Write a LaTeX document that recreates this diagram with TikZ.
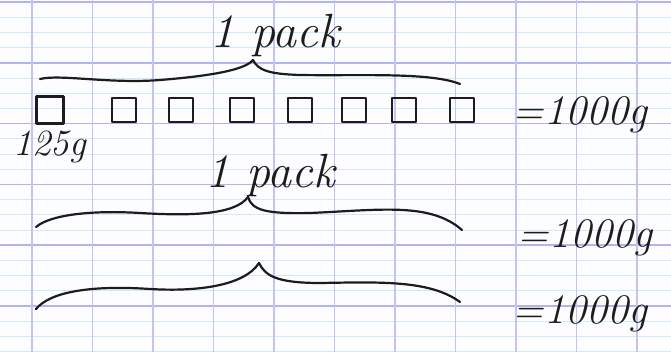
\documentclass[tikz,border=0pt]{standalone}
\usepackage{xcolor}
\usetikzlibrary{positioning}
\definecolor{paper}{HTML}{FDFDFF}
\definecolor{mainrule}{HTML}{B4B4EC}
\definecolor{thinrule}{HTML}{D3EAF6}
\definecolor{vrule}{HTML}{C4C4F2}
\definecolor{ink}{HTML}{1C1C1C}

\begin{document}
\begin{tikzpicture}[x=1pt,y=-1pt,line cap=round,line join=round]
    \tikzstyle{sq}=[draw=ink,line width=2.4pt,minimum size=24pt,inner sep=0pt]
    \tikzstyle{brace}=[draw=ink,line width=2.2pt]
    \tikzstyle{hand}=[text=ink,inner sep=0pt,font=\fontsize{42}{42}\selectfont\itshape]
    % paper
    \fill[paper] (0,0) rectangle (671,352);
    \useasboundingbox (0,0) rectangle (671,352);
    \foreach \y in {2,62.8,123.6,184.4,245.2,306} {
      \foreach \j in {1,2,3} \draw[thinrule,line width=0.9pt] (0,\y+15.2*\j) -- (671,\y+15.2*\j);
      \draw[mainrule,line width=1.6pt] (0,\y) -- (671,\y);
    }
    \foreach \x in {32,92.5,...,640} \draw[vrule,line width=1.3pt] (\x,0) -- (\x,352);
    % squares
    \node[sq,minimum size=27pt] (s1) at (50,110) {};
    \foreach \i/\x in {2/124,3/181,4/242,5/300,6/354,7/404,8/462}
      \node[sq] (s\i) at (\x,110) {};
    \node[hand,font=\fontsize{37}{37}\selectfont\itshape,anchor=base] (w) at (50,156) {125g};
    \node[hand,anchor=base] (t1) at (580,125) {=1000g};
    \node[hand,anchor=base] (t2) at (585,248) {=1000g};
    \node[hand,anchor=base] (t3) at (580,323) {=1000g};
    % braces
    \coordinate (a1l) at (40,79);
    \coordinate (a1) at (253,60);
    \coordinate (a1r) at (460,84);
    \draw[brace] (a1l) .. controls (60,74) and (110,84) .. (160,80) .. controls (210,76) and (245,70) .. (a1);
    \draw[brace] (a1) .. controls (258,70) and (268,74) .. (300,75) .. controls (360,76) and (430,72) .. (a1r);
    \node[hand,font=\fontsize{48}{48}\selectfont\itshape,anchor=base] (p1) at (275,48) {1 pack};
    \coordinate (a2l) at (36,227);
    \coordinate (a2) at (248,197);
    \coordinate (a2r) at (462,230);
    \draw[brace] (a2l) .. controls (50,215) and (90,210) .. (140,213) .. controls (190,216) and (235,215) .. (a2);
    \draw[brace] (a2) .. controls (252,210) and (265,214) .. (310,213) .. controls (380,210) and (430,202) .. (a2r);
    \node[hand,font=\fontsize{48}{48}\selectfont\itshape,anchor=base] (p2) at (270,188) {1 pack};
    \coordinate (a3l) at (36,309);
    \coordinate (a3) at (259,263);
    \coordinate (a3r) at (460,302);
    \draw[brace] (a3l) .. controls (50,292) and (90,285) .. (150,289) .. controls (200,292) and (245,285) .. (a3);
    \draw[brace] (a3) .. controls (265,275) and (275,283) .. (320,283) .. controls (380,282) and (430,280) .. (a3r);
  \end{tikzpicture}
\end{document}
